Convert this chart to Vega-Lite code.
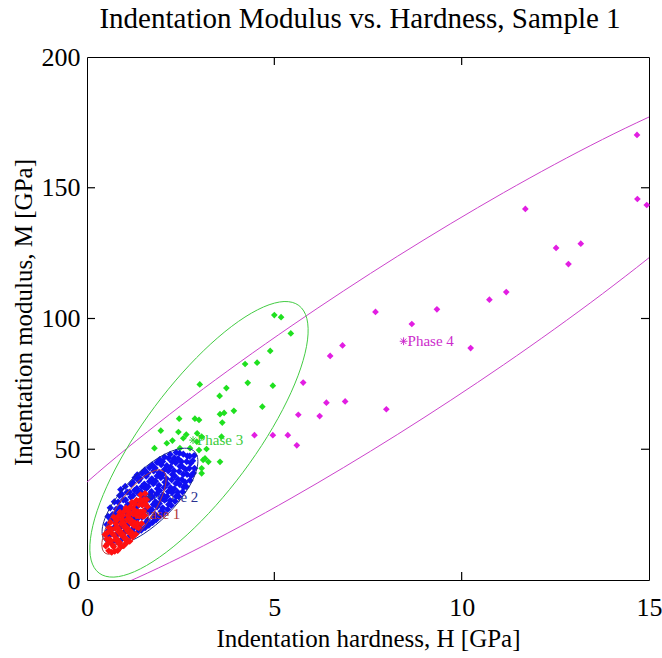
{
  "$schema": "https://vega.github.io/schema/vega-lite/v6.json",
  "width": 562,
  "height": 523,
  "autosize": {"type": "none"},
  "padding": {"left": 87, "top": 57, "right": 13, "bottom": 78},
  "background": "white",
  "title": {"text": "Indentation Modulus vs. Hardness, Sample 1", "font": "Liberation Serif", "fontSize": 29, "fontWeight": "normal", "color": "black", "offset": 10, "frame": "group", "dx": -8},
  "config": {
    "view": {"stroke": "black", "strokeWidth": 1},
    "axis": {"grid": false, "domain": false, "labelFlush": false, "labelOverlap": false, "labelColor": "black", "titleColor": "black", "labelFont": "Liberation Serif", "titleFont": "Liberation Serif", "labelFontSize": 26, "titleFontSize": 25, "titleFontWeight": "normal"}
  },
  "datasets": {
    "lab": [
      {"H": 1.15, "M": 25.2, "p": "1", "t": "Phase 1"},
      {"H": 1.63, "M": 31.7, "p": "2", "t": "Phase 2"},
      {"H": 2.83, "M": 53.5, "p": "3", "t": "Phase 3"},
      {"H": 8.45, "M": 91.3, "p": "4", "t": "Phase 4"}
    ],
    "tx": [{"v": 5}, {"v": 10}],
    "ty": [{"v": 50}, {"v": 100}, {"v": 150}],
    "pts": [
      {"H": 14.68, "M": 170.2, "p": "m"}, {"H": 14.69, "M": 145.7, "p": "m"}, {"H": 14.94, "M": 143.4, "p": "m"},
      {"H": 11.70, "M": 141.9, "p": "m"}, {"H": 12.52, "M": 127.0, "p": "m"}, {"H": 13.18, "M": 128.6, "p": "m"},
      {"H": 12.85, "M": 120.8, "p": "m"}, {"H": 10.74, "M": 107.2, "p": "m"}, {"H": 11.19, "M": 110.1, "p": "m"},
      {"H": 7.70, "M": 102.5, "p": "m"}, {"H": 9.34, "M": 103.5, "p": "m"}, {"H": 8.67, "M": 97.9, "p": "m"},
      {"H": 10.24, "M": 88.7, "p": "m"}, {"H": 6.82, "M": 89.7, "p": "m"}, {"H": 6.49, "M": 85.7, "p": "m"},
      {"H": 5.77, "M": 75.5, "p": "m"}, {"H": 6.89, "M": 68.3, "p": "m"}, {"H": 6.39, "M": 67.8, "p": "m"},
      {"H": 5.64, "M": 63.2, "p": "m"}, {"H": 6.21, "M": 62.7, "p": "m"}, {"H": 7.99, "M": 65.3, "p": "m"},
      {"H": 4.47, "M": 55.4, "p": "m"}, {"H": 4.96, "M": 55.4, "p": "m"}, {"H": 5.36, "M": 55.4, "p": "m"},
      {"H": 5.60, "M": 51.5, "p": "m"},
      {"H": 5.00, "M": 101.3, "p": "g"}, {"H": 5.18, "M": 100.5, "p": "g"}, {"H": 5.44, "M": 94.3, "p": "g"},
      {"H": 4.89, "M": 87.6, "p": "g"}, {"H": 4.22, "M": 82.6, "p": "g"}, {"H": 4.54, "M": 83.1, "p": "g"},
      {"H": 3.01, "M": 74.8, "p": "g"}, {"H": 3.72, "M": 73.4, "p": "g"}, {"H": 4.29, "M": 75.4, "p": "g"},
      {"H": 4.96, "M": 74.3, "p": "g"}, {"H": 3.54, "M": 70.4, "p": "g"}, {"H": 4.68, "M": 66.3, "p": "g"},
      {"H": 3.92, "M": 64.7, "p": "g"}, {"H": 3.55, "M": 63.4, "p": "g"}, {"H": 3.66, "M": 63.9, "p": "g"},
      {"H": 3.61, "M": 60.2, "p": "g"}, {"H": 2.46, "M": 61.7, "p": "g"}, {"H": 2.88, "M": 61.7, "p": "g"},
      {"H": 2.99, "M": 61.2, "p": "g"}, {"H": 1.97, "M": 57.1, "p": "g"}, {"H": 2.44, "M": 56.6, "p": "g"},
      {"H": 2.65, "M": 55.6, "p": "g"}, {"H": 2.94, "M": 56.1, "p": "g"}, {"H": 3.06, "M": 54.8, "p": "g"},
      {"H": 2.28, "M": 53.3, "p": "g"}, {"H": 1.80, "M": 50.4, "p": "g"}, {"H": 3.59, "M": 54.8, "p": "g"},
      {"H": 3.19, "M": 50.1, "p": "g"}, {"H": 3.10, "M": 45.9, "p": "g"}, {"H": 3.55, "M": 45.2, "p": "g"},
      {"H": 3.06, "M": 40.8, "p": "g"}, {"H": 3.15, "M": 46.5, "p": "g"}, {"H": 2.99, "M": 49.7, "p": "g"},
      {"H": 3.24, "M": 45.2, "p": "g"}, {"H": 3.06, "M": 42.7, "p": "g"}, {"H": 2.13, "M": 52.3, "p": "g"},
      {"H": 2.48, "M": 50.4, "p": "g"}, {"H": 2.75, "M": 50.4, "p": "g"}, {"H": 2.57, "M": 54.2, "p": "g"},
      {"H": 2.93, "M": 52.9, "p": "g"},
      {"H": 0.55, "M": 15.8, "p": "b"}, {"H": 0.57, "M": 18.9, "p": "b"}, {"H": 0.53, "M": 21.2, "p": "b"}, {"H": 0.56, "M": 24.3, "p": "b"},
      {"H": 0.65, "M": 14.3, "p": "b"}, {"H": 0.62, "M": 17.3, "p": "b"}, {"H": 0.67, "M": 19.5, "p": "b"}, {"H": 0.64, "M": 22.9, "p": "b"}, {"H": 0.68, "M": 25.0, "p": "b"}, {"H": 0.62, "M": 27.6, "p": "b"},
      {"H": 0.75, "M": 15.1, "p": "b"}, {"H": 0.78, "M": 17.0, "p": "b"}, {"H": 0.73, "M": 20.1, "p": "b"}, {"H": 0.77, "M": 22.0, "p": "b"}, {"H": 0.74, "M": 25.2, "p": "b"}, {"H": 0.78, "M": 27.1, "p": "b"}, {"H": 0.73, "M": 29.9, "p": "b"},
      {"H": 0.85, "M": 14.6, "p": "b"}, {"H": 0.82, "M": 17.9, "p": "b"}, {"H": 0.87, "M": 19.9, "p": "b"}, {"H": 0.83, "M": 22.9, "p": "b"}, {"H": 0.86, "M": 24.8, "p": "b"}, {"H": 0.88, "M": 27.8, "p": "b"}, {"H": 0.83, "M": 29.8, "p": "b"}, {"H": 0.87, "M": 32.3, "p": "b"},
      {"H": 0.95, "M": 15.9, "p": "b"}, {"H": 0.98, "M": 17.8, "p": "b"}, {"H": 0.93, "M": 20.8, "p": "b"}, {"H": 0.97, "M": 22.6, "p": "b"}, {"H": 0.94, "M": 25.7, "p": "b"}, {"H": 0.92, "M": 27.6, "p": "b"}, {"H": 0.97, "M": 30.6, "p": "b"}, {"H": 0.93, "M": 32.8, "p": "b"}, {"H": 0.90, "M": 34.6, "p": "b"},
      {"H": 1.05, "M": 15.4, "p": "b"}, {"H": 1.02, "M": 18.8, "p": "b"}, {"H": 1.07, "M": 20.7, "p": "b"}, {"H": 1.03, "M": 23.7, "p": "b"}, {"H": 1.06, "M": 25.7, "p": "b"}, {"H": 1.08, "M": 28.7, "p": "b"}, {"H": 1.03, "M": 30.6, "p": "b"}, {"H": 1.07, "M": 33.6, "p": "b"}, {"H": 1.02, "M": 35.8, "p": "b"},
      {"H": 1.15, "M": 16.9, "p": "b"}, {"H": 1.18, "M": 18.8, "p": "b"}, {"H": 1.13, "M": 21.8, "p": "b"}, {"H": 1.17, "M": 23.8, "p": "b"}, {"H": 1.14, "M": 26.8, "p": "b"}, {"H": 1.12, "M": 28.7, "p": "b"}, {"H": 1.17, "M": 31.7, "p": "b"}, {"H": 1.13, "M": 33.6, "p": "b"}, {"H": 1.18, "M": 36.6, "p": "b"},
      {"H": 1.25, "M": 17.6, "p": "b"}, {"H": 1.22, "M": 19.5, "p": "b"}, {"H": 1.27, "M": 22.5, "p": "b"}, {"H": 1.23, "M": 24.4, "p": "b"}, {"H": 1.26, "M": 27.4, "p": "b"}, {"H": 1.28, "M": 29.4, "p": "b"}, {"H": 1.23, "M": 32.3, "p": "b"}, {"H": 1.27, "M": 34.3, "p": "b"}, {"H": 1.22, "M": 37.3, "p": "b"}, {"H": 1.28, "M": 39.1, "p": "b"},
      {"H": 1.35, "M": 18.3, "p": "b"}, {"H": 1.38, "M": 20.3, "p": "b"}, {"H": 1.33, "M": 23.2, "p": "b"}, {"H": 1.37, "M": 25.2, "p": "b"}, {"H": 1.34, "M": 28.1, "p": "b"}, {"H": 1.32, "M": 30.1, "p": "b"}, {"H": 1.37, "M": 33.1, "p": "b"}, {"H": 1.33, "M": 35.0, "p": "b"}, {"H": 1.38, "M": 38.0, "p": "b"}, {"H": 1.34, "M": 40.2, "p": "b"},
      {"H": 1.45, "M": 19.1, "p": "b"}, {"H": 1.42, "M": 21.0, "p": "b"}, {"H": 1.47, "M": 24.0, "p": "b"}, {"H": 1.43, "M": 25.9, "p": "b"}, {"H": 1.46, "M": 28.9, "p": "b"}, {"H": 1.48, "M": 30.9, "p": "b"}, {"H": 1.43, "M": 33.8, "p": "b"}, {"H": 1.47, "M": 35.8, "p": "b"}, {"H": 1.42, "M": 38.8, "p": "b"}, {"H": 1.47, "M": 40.9, "p": "b"},
      {"H": 1.55, "M": 20.0, "p": "b"}, {"H": 1.58, "M": 22.0, "p": "b"}, {"H": 1.53, "M": 24.9, "p": "b"}, {"H": 1.57, "M": 26.9, "p": "b"}, {"H": 1.54, "M": 29.8, "p": "b"}, {"H": 1.52, "M": 31.8, "p": "b"}, {"H": 1.57, "M": 34.8, "p": "b"}, {"H": 1.53, "M": 36.7, "p": "b"}, {"H": 1.58, "M": 39.7, "p": "b"}, {"H": 1.54, "M": 42.0, "p": "b"},
      {"H": 1.65, "M": 21.0, "p": "b"}, {"H": 1.62, "M": 22.9, "p": "b"}, {"H": 1.67, "M": 25.9, "p": "b"}, {"H": 1.63, "M": 27.8, "p": "b"}, {"H": 1.66, "M": 30.8, "p": "b"}, {"H": 1.68, "M": 32.8, "p": "b"}, {"H": 1.63, "M": 35.7, "p": "b"}, {"H": 1.67, "M": 37.7, "p": "b"}, {"H": 1.62, "M": 40.7, "p": "b"}, {"H": 1.67, "M": 43.0, "p": "b"},
      {"H": 1.75, "M": 22.0, "p": "b"}, {"H": 1.78, "M": 24.0, "p": "b"}, {"H": 1.73, "M": 26.9, "p": "b"}, {"H": 1.77, "M": 28.9, "p": "b"}, {"H": 1.74, "M": 31.8, "p": "b"}, {"H": 1.72, "M": 33.8, "p": "b"}, {"H": 1.77, "M": 36.8, "p": "b"}, {"H": 1.73, "M": 38.7, "p": "b"}, {"H": 1.78, "M": 41.7, "p": "b"}, {"H": 1.74, "M": 44.0, "p": "b"},
      {"H": 1.85, "M": 23.1, "p": "b"}, {"H": 1.82, "M": 25.0, "p": "b"}, {"H": 1.87, "M": 28.0, "p": "b"}, {"H": 1.83, "M": 29.9, "p": "b"}, {"H": 1.86, "M": 32.9, "p": "b"}, {"H": 1.88, "M": 34.9, "p": "b"}, {"H": 1.83, "M": 37.8, "p": "b"}, {"H": 1.87, "M": 39.8, "p": "b"}, {"H": 1.82, "M": 42.8, "p": "b"}, {"H": 1.87, "M": 45.0, "p": "b"},
      {"H": 1.95, "M": 24.4, "p": "b"}, {"H": 1.98, "M": 26.3, "p": "b"}, {"H": 1.93, "M": 29.3, "p": "b"}, {"H": 1.97, "M": 31.2, "p": "b"}, {"H": 1.94, "M": 34.2, "p": "b"}, {"H": 1.92, "M": 36.2, "p": "b"}, {"H": 1.97, "M": 39.1, "p": "b"}, {"H": 1.93, "M": 41.1, "p": "b"}, {"H": 1.98, "M": 44.1, "p": "b"}, {"H": 1.94, "M": 46.0, "p": "b"},
      {"H": 2.05, "M": 25.6, "p": "b"}, {"H": 2.02, "M": 27.6, "p": "b"}, {"H": 2.07, "M": 30.5, "p": "b"}, {"H": 2.03, "M": 32.5, "p": "b"}, {"H": 2.06, "M": 35.4, "p": "b"}, {"H": 2.08, "M": 37.4, "p": "b"}, {"H": 2.03, "M": 40.4, "p": "b"}, {"H": 2.07, "M": 42.3, "p": "b"}, {"H": 2.02, "M": 45.3, "p": "b"}, {"H": 2.07, "M": 47.0, "p": "b"},
      {"H": 2.15, "M": 27.0, "p": "b"}, {"H": 2.18, "M": 28.9, "p": "b"}, {"H": 2.13, "M": 31.9, "p": "b"}, {"H": 2.17, "M": 33.8, "p": "b"}, {"H": 2.14, "M": 36.8, "p": "b"}, {"H": 2.12, "M": 38.8, "p": "b"}, {"H": 2.17, "M": 41.7, "p": "b"}, {"H": 2.13, "M": 43.7, "p": "b"}, {"H": 2.18, "M": 46.6, "p": "b"},
      {"H": 2.25, "M": 28.5, "p": "b"}, {"H": 2.22, "M": 30.4, "p": "b"}, {"H": 2.27, "M": 33.4, "p": "b"}, {"H": 2.23, "M": 35.3, "p": "b"}, {"H": 2.26, "M": 38.3, "p": "b"}, {"H": 2.28, "M": 40.3, "p": "b"}, {"H": 2.23, "M": 43.2, "p": "b"}, {"H": 2.27, "M": 45.2, "p": "b"}, {"H": 2.22, "M": 48.0, "p": "b"},
      {"H": 2.35, "M": 30.1, "p": "b"}, {"H": 2.38, "M": 32.0, "p": "b"}, {"H": 2.33, "M": 34.9, "p": "b"}, {"H": 2.37, "M": 36.9, "p": "b"}, {"H": 2.34, "M": 39.8, "p": "b"}, {"H": 2.32, "M": 41.8, "p": "b"}, {"H": 2.37, "M": 44.8, "p": "b"}, {"H": 2.33, "M": 46.7, "p": "b"}, {"H": 2.38, "M": 48.8, "p": "b"},
      {"H": 2.45, "M": 31.9, "p": "b"}, {"H": 2.42, "M": 33.6, "p": "b"}, {"H": 2.47, "M": 36.6, "p": "b"}, {"H": 2.43, "M": 38.5, "p": "b"}, {"H": 2.46, "M": 41.5, "p": "b"}, {"H": 2.48, "M": 43.5, "p": "b"}, {"H": 2.43, "M": 46.4, "p": "b"}, {"H": 2.47, "M": 48.5, "p": "b"},
      {"H": 2.55, "M": 33.7, "p": "b"}, {"H": 2.58, "M": 35.5, "p": "b"}, {"H": 2.53, "M": 38.4, "p": "b"}, {"H": 2.57, "M": 40.4, "p": "b"}, {"H": 2.54, "M": 43.4, "p": "b"}, {"H": 2.52, "M": 45.3, "p": "b"}, {"H": 2.57, "M": 48.1, "p": "b"},
      {"H": 2.65, "M": 35.7, "p": "b"}, {"H": 2.62, "M": 37.4, "p": "b"}, {"H": 2.67, "M": 40.4, "p": "b"}, {"H": 2.63, "M": 42.3, "p": "b"}, {"H": 2.66, "M": 45.3, "p": "b"}, {"H": 2.68, "M": 47.4, "p": "b"},
      {"H": 2.75, "M": 38.1, "p": "b"}, {"H": 2.78, "M": 39.8, "p": "b"}, {"H": 2.73, "M": 42.7, "p": "b"}, {"H": 2.77, "M": 44.7, "p": "b"}, {"H": 2.74, "M": 47.4, "p": "b"},
      {"H": 2.84, "M": 40.9, "p": "b"}, {"H": 2.87, "M": 42.7, "p": "b"}, {"H": 2.82, "M": 45.6, "p": "b"}, {"H": 2.86, "M": 47.6, "p": "b"},
      {"H": 0.50, "M": 13.0, "p": "r"}, {"H": 0.53, "M": 15.7, "p": "r"}, {"H": 0.48, "M": 17.4, "p": "r"},
      {"H": 0.58, "M": 11.2, "p": "r"}, {"H": 0.55, "M": 13.9, "p": "r"}, {"H": 0.60, "M": 15.6, "p": "r"}, {"H": 0.56, "M": 18.3, "p": "r"}, {"H": 0.59, "M": 20.0, "p": "r"},
      {"H": 0.66, "M": 10.6, "p": "r"}, {"H": 0.69, "M": 13.3, "p": "r"}, {"H": 0.64, "M": 15.0, "p": "r"}, {"H": 0.68, "M": 17.7, "p": "r"}, {"H": 0.65, "M": 19.4, "p": "r"}, {"H": 0.63, "M": 22.1, "p": "r"},
      {"H": 0.74, "M": 11.0, "p": "r"}, {"H": 0.71, "M": 12.7, "p": "r"}, {"H": 0.76, "M": 15.4, "p": "r"}, {"H": 0.72, "M": 17.1, "p": "r"}, {"H": 0.75, "M": 19.8, "p": "r"}, {"H": 0.77, "M": 21.5, "p": "r"}, {"H": 0.72, "M": 24.0, "p": "r"},
      {"H": 0.82, "M": 11.3, "p": "r"}, {"H": 0.85, "M": 14.0, "p": "r"}, {"H": 0.80, "M": 15.7, "p": "r"}, {"H": 0.84, "M": 18.4, "p": "r"}, {"H": 0.81, "M": 20.1, "p": "r"}, {"H": 0.79, "M": 22.8, "p": "r"}, {"H": 0.84, "M": 24.5, "p": "r"},
      {"H": 0.90, "M": 12.7, "p": "r"}, {"H": 0.87, "M": 14.4, "p": "r"}, {"H": 0.92, "M": 17.1, "p": "r"}, {"H": 0.88, "M": 18.8, "p": "r"}, {"H": 0.91, "M": 21.5, "p": "r"}, {"H": 0.93, "M": 23.2, "p": "r"}, {"H": 0.88, "M": 25.9, "p": "r"},
      {"H": 0.98, "M": 13.1, "p": "r"}, {"H": 1.01, "M": 15.8, "p": "r"}, {"H": 0.96, "M": 17.5, "p": "r"}, {"H": 1.00, "M": 20.2, "p": "r"}, {"H": 0.97, "M": 21.9, "p": "r"}, {"H": 0.95, "M": 24.6, "p": "r"}, {"H": 1.00, "M": 26.3, "p": "r"},
      {"H": 1.06, "M": 14.3, "p": "r"}, {"H": 1.03, "M": 16.0, "p": "r"}, {"H": 1.08, "M": 18.7, "p": "r"}, {"H": 1.04, "M": 20.4, "p": "r"}, {"H": 1.07, "M": 23.1, "p": "r"}, {"H": 1.09, "M": 24.8, "p": "r"}, {"H": 1.04, "M": 27.5, "p": "r"},
      {"H": 1.14, "M": 14.8, "p": "r"}, {"H": 1.17, "M": 17.5, "p": "r"}, {"H": 1.12, "M": 19.2, "p": "r"}, {"H": 1.16, "M": 21.9, "p": "r"}, {"H": 1.13, "M": 23.6, "p": "r"}, {"H": 1.11, "M": 26.3, "p": "r"}, {"H": 1.16, "M": 28.0, "p": "r"},
      {"H": 1.22, "M": 16.5, "p": "r"}, {"H": 1.19, "M": 18.2, "p": "r"}, {"H": 1.24, "M": 20.9, "p": "r"}, {"H": 1.20, "M": 22.6, "p": "r"}, {"H": 1.23, "M": 25.3, "p": "r"}, {"H": 1.25, "M": 27.0, "p": "r"}, {"H": 1.20, "M": 29.7, "p": "r"},
      {"H": 1.30, "M": 17.5, "p": "r"}, {"H": 1.33, "M": 20.2, "p": "r"}, {"H": 1.28, "M": 21.9, "p": "r"}, {"H": 1.32, "M": 24.6, "p": "r"}, {"H": 1.29, "M": 26.3, "p": "r"}, {"H": 1.27, "M": 29.0, "p": "r"}, {"H": 1.32, "M": 30.5, "p": "r"},
      {"H": 1.38, "M": 20.0, "p": "r"}, {"H": 1.35, "M": 21.7, "p": "r"}, {"H": 1.40, "M": 24.4, "p": "r"}, {"H": 1.36, "M": 26.1, "p": "r"}, {"H": 1.39, "M": 28.8, "p": "r"}, {"H": 1.41, "M": 30.5, "p": "r"},
      {"H": 1.46, "M": 21.6, "p": "r"}, {"H": 1.49, "M": 24.3, "p": "r"}, {"H": 1.44, "M": 26.0, "p": "r"}, {"H": 1.48, "M": 28.7, "p": "r"}, {"H": 1.45, "M": 30.4, "p": "r"}, {"H": 1.43, "M": 32.6, "p": "r"},
      {"H": 1.54, "M": 24.7, "p": "r"}, {"H": 1.51, "M": 26.4, "p": "r"}, {"H": 1.56, "M": 29.1, "p": "r"}, {"H": 1.52, "M": 30.8, "p": "r"}, {"H": 1.55, "M": 33.1, "p": "r"},
      {"H": 1.61, "M": 28.0, "p": "r"}, {"H": 1.59, "M": 30.7, "p": "r"}
    ],
    "ell": [
      {"e": "m", "i": 0, "H": 19.236, "M": 188.25}, {"e": "m", "i": 1, "H": 18.863, "M": 193.71}, {"e": "m", "i": 2, "H": 17.768, "M": 192.08}, {"e": "m", "i": 3, "H": 16.027, "M": 183.47},
      {"e": "m", "i": 4, "H": 13.759, "M": 168.47}, {"e": "m", "i": 5, "H": 11.116, "M": 148.09}, {"e": "m", "i": 6, "H": 8.281, "M": 123.74}, {"e": "m", "i": 7, "H": 5.446, "M": 97.07},
      {"e": "m", "i": 8, "H": 2.804, "M": 69.89}, {"e": "m", "i": 9, "H": 0.535, "M": 44.05}, {"e": "m", "i": 10, "H": -1.206, "M": 21.34}, {"e": "m", "i": 11, "H": -2.301, "M": 3.27},
      {"e": "m", "i": 12, "H": -2.674, "M": -8.91}, {"e": "m", "i": 13, "H": -2.301, "M": -14.37}, {"e": "m", "i": 14, "H": -1.206, "M": -12.74}, {"e": "m", "i": 15, "H": 0.535, "M": -4.13},
      {"e": "m", "i": 16, "H": 2.804, "M": 10.88}, {"e": "m", "i": 17, "H": 5.446, "M": 31.25}, {"e": "m", "i": 18, "H": 8.281, "M": 55.60}, {"e": "m", "i": 19, "H": 11.116, "M": 82.27},
      {"e": "m", "i": 20, "H": 13.759, "M": 109.46}, {"e": "m", "i": 21, "H": 16.027, "M": 135.29}, {"e": "m", "i": 22, "H": 17.768, "M": 158.01}, {"e": "m", "i": 23, "H": 18.863, "M": 176.07},
      {"e": "g", "i": 0, "H": 5.655, "M": 104.97}, {"e": "g", "i": 1, "H": 5.868, "M": 99.97}, {"e": "g", "i": 2, "H": 5.886, "M": 91.82}, {"e": "g", "i": 3, "H": 5.706, "M": 81.09},
      {"e": "g", "i": 4, "H": 5.340, "M": 68.49}, {"e": "g", "i": 5, "H": 4.815, "M": 54.89}, {"e": "g", "i": 6, "H": 4.165, "M": 41.22}, {"e": "g", "i": 7, "H": 3.435, "M": 28.41},
      {"e": "g", "i": 8, "H": 2.674, "M": 17.32}, {"e": "g", "i": 9, "H": 1.936, "M": 8.73}, {"e": "g", "i": 10, "H": 1.268, "M": 3.20}, {"e": "g", "i": 11, "H": 0.718, "M": 1.11},
      {"e": "g", "i": 12, "H": 0.323, "M": 2.63}, {"e": "g", "i": 13, "H": 0.110, "M": 7.63}, {"e": "g", "i": 14, "H": 0.092, "M": 15.78}, {"e": "g", "i": 15, "H": 0.272, "M": 26.52},
      {"e": "g", "i": 16, "H": 0.638, "M": 39.11}, {"e": "g", "i": 17, "H": 1.163, "M": 52.71}, {"e": "g", "i": 18, "H": 1.813, "M": 66.38}, {"e": "g", "i": 19, "H": 2.543, "M": 79.19},
      {"e": "g", "i": 20, "H": 3.304, "M": 90.28}, {"e": "g", "i": 21, "H": 4.042, "M": 98.88}, {"e": "g", "i": 22, "H": 4.710, "M": 104.40}, {"e": "g", "i": 23, "H": 5.260, "M": 106.49},
      {"e": "b", "i": 0, "H": 2.869, "M": 49.14}, {"e": "b", "i": 1, "H": 2.951, "M": 46.81}, {"e": "b", "i": 2, "H": 2.947, "M": 43.47}, {"e": "b", "i": 3, "H": 2.857, "M": 39.35},
      {"e": "b", "i": 4, "H": 2.686, "M": 34.72}, {"e": "b", "i": 5, "H": 2.447, "M": 29.89}, {"e": "b", "i": 6, "H": 2.156, "M": 25.21}, {"e": "b", "i": 7, "H": 1.832, "M": 20.99},
      {"e": "b", "i": 8, "H": 1.498, "M": 17.51}, {"e": "b", "i": 9, "H": 1.177, "M": 15.01}, {"e": "b", "i": 10, "H": 0.890, "M": 13.67}, {"e": "b", "i": 11, "H": 0.656, "M": 13.57},
      {"e": "b", "i": 12, "H": 0.493, "M": 14.72}, {"e": "b", "i": 13, "H": 0.411, "M": 17.05}, {"e": "b", "i": 14, "H": 0.415, "M": 20.39}, {"e": "b", "i": 15, "H": 0.506, "M": 24.51},
      {"e": "b", "i": 16, "H": 0.676, "M": 29.15}, {"e": "b", "i": 17, "H": 0.915, "M": 33.97}, {"e": "b", "i": 18, "H": 1.207, "M": 38.65}, {"e": "b", "i": 19, "H": 1.530, "M": 42.88},
      {"e": "b", "i": 20, "H": 1.864, "M": 46.36}, {"e": "b", "i": 21, "H": 2.186, "M": 48.85}, {"e": "b", "i": 22, "H": 2.473, "M": 50.19}, {"e": "b", "i": 23, "H": 2.706, "M": 50.29},
      {"e": "r", "i": 0, "H": 2.028, "M": 41.68}, {"e": "r", "i": 1, "H": 2.098, "M": 40.17}, {"e": "r", "i": 2, "H": 2.110, "M": 37.70}, {"e": "r", "i": 3, "H": 2.063, "M": 34.43},
      {"e": "r", "i": 4, "H": 1.962, "M": 30.59}, {"e": "r", "i": 5, "H": 1.813, "M": 26.43}, {"e": "r", "i": 6, "H": 1.625, "M": 22.24}, {"e": "r", "i": 7, "H": 1.412, "M": 18.31},
      {"e": "r", "i": 8, "H": 1.188, "M": 14.91}, {"e": "r", "i": 9, "H": 0.969, "M": 12.26}, {"e": "r", "i": 10, "H": 0.769, "M": 10.54}, {"e": "r", "i": 11, "H": 0.602, "M": 9.88},
      {"e": "r", "i": 12, "H": 0.480, "M": 10.32}, {"e": "r", "i": 13, "H": 0.411, "M": 11.83}, {"e": "r", "i": 14, "H": 0.398, "M": 14.30}, {"e": "r", "i": 15, "H": 0.445, "M": 17.57},
      {"e": "r", "i": 16, "H": 0.546, "M": 21.41}, {"e": "r", "i": 17, "H": 0.696, "M": 25.57}, {"e": "r", "i": 18, "H": 0.883, "M": 29.76}, {"e": "r", "i": 19, "H": 1.096, "M": 33.69},
      {"e": "r", "i": 20, "H": 1.320, "M": 37.09}, {"e": "r", "i": 21, "H": 1.539, "M": 39.74}, {"e": "r", "i": 22, "H": 1.739, "M": 41.46}, {"e": "r", "i": 23, "H": 1.906, "M": 42.12}
    ]
  },
  "layer": [
    {
      "data": {"name": "tx"},
      "mark": {"type": "point", "shape": "M0,-1L0,0", "filled": false, "size": 256, "stroke": "black", "strokeWidth": 1.2, "opacity": 1},
      "encoding": {
        "x": {"field": "v", "type": "quantitative", "scale": {"domain": [0, 15], "nice": false, "zero": false}, "axis": null},
        "y": {"datum": 0, "type": "quantitative", "scale": {"domain": [0, 200], "nice": false, "zero": false}, "axis": null}
      }
    },
    {
      "data": {"name": "tx"},
      "mark": {"type": "point", "shape": "M0,0L0,1", "filled": false, "size": 256, "stroke": "black", "strokeWidth": 1.2, "opacity": 1},
      "encoding": {
        "x": {"field": "v", "type": "quantitative", "axis": null},
        "y": {"datum": 200, "type": "quantitative", "axis": null}
      }
    },
    {
      "data": {"name": "ty"},
      "mark": {"type": "point", "shape": "M0,0L1,0", "filled": false, "size": 256, "stroke": "black", "strokeWidth": 1.2, "opacity": 1},
      "encoding": {
        "y": {"field": "v", "type": "quantitative", "axis": null},
        "x": {"datum": 0, "type": "quantitative", "axis": null}
      }
    },
    {
      "data": {"name": "ty"},
      "mark": {"type": "point", "shape": "M-1,0L0,0", "filled": false, "size": 256, "stroke": "black", "strokeWidth": 1.2, "opacity": 1},
      "encoding": {
        "y": {"field": "v", "type": "quantitative", "axis": null},
        "x": {"datum": 15, "type": "quantitative", "axis": null}
      }
    },
    {
      "data": {"name": "lab"},
      "transform": [{"filter": "datum.p == '2' || datum.p == '3'"}],
      "mark": {"type": "text", "align": "left", "baseline": "middle", "dx": 4, "font": "Liberation Serif", "fontSize": 15},
      "encoding": {
        "x": {"field": "H", "type": "quantitative", "axis": null},
        "y": {"field": "M", "type": "quantitative", "axis": null},
        "text": {"field": "t"},
        "color": {"field": "p", "type": "nominal", "scale": {"domain": ["1", "2", "3", "4"], "range": ["#b03838", "#2a3090", "#3ccc3c", "#cc2ccc"]}, "legend": null}
      }
    },
    {
      "data": {"name": "pts"},
      "transform": [{"filter": "datum.p == 'm' || datum.p == 'g'"}],
      "mark": {"type": "point", "shape": "diamond", "filled": true, "size": 45, "opacity": 1, "strokeWidth": 0},
      "encoding": {
        "x": {"field": "H", "type": "quantitative",
          "axis": {"orient": "bottom", "values": [0, 5, 10, 15], "ticks": false, "labelPadding": 14, "title": "Indentation hardness, H [GPa]", "titleBaseline": "alphabetic", "titleY": 66}},
        "y": {"field": "M", "type": "quantitative",
          "axis": {"orient": "left", "values": [0, 50, 100, 150, 200], "ticks": false, "labelPadding": 7, "title": "Indentation modulus, M [GPa]", "titleBaseline": "alphabetic", "titleX": -56, "titleY": 255}},
        "fill": {"field": "p", "type": "nominal", "scale": {"domain": ["m", "g", "b", "r"], "range": ["#e21ee2", "#1fe01f", "#0f0ff2", "#ff1010"]}, "legend": null}
      }
    },
    {
      "data": {"name": "pts"},
      "transform": [{"filter": "datum.p == 'b'"}],
      "mark": {"type": "point", "shape": "diamond", "filled": true, "size": 52, "opacity": 1, "strokeWidth": 0},
      "encoding": {
        "x": {"field": "H", "type": "quantitative", "axis": null},
        "y": {"field": "M", "type": "quantitative", "axis": null},
        "fill": {"field": "p", "type": "nominal", "legend": null}
      }
    },
    {
      "data": {"name": "ell"},
      "mark": {"type": "line", "interpolate": "cardinal-closed", "clip": true, "strokeWidth": 1},
      "encoding": {
        "x": {"field": "H", "type": "quantitative", "axis": null},
        "y": {"field": "M", "type": "quantitative", "axis": null},
        "stroke": {"field": "e", "type": "nominal", "scale": {"domain": ["m", "g", "b", "r"], "range": ["#cc44cc", "#44cc44", "#1a2a8a", "#b33c3c"]}, "legend": null},
        "order": {"field": "i", "type": "quantitative"}
      }
    },
    {
      "data": {"name": "lab"},
      "transform": [{"filter": "datum.p == '1' || datum.p == '4'"}],
      "mark": {"type": "text", "align": "left", "baseline": "middle", "dx": 4, "font": "Liberation Serif", "fontSize": 15},
      "encoding": {
        "x": {"field": "H", "type": "quantitative", "axis": null},
        "y": {"field": "M", "type": "quantitative", "axis": null},
        "text": {"field": "t"},
        "color": {"field": "p", "type": "nominal", "legend": null}
      }
    },
    {
      "data": {"name": "lab"},
      "mark": {"type": "point", "shape": "M-1,0L1,0M0,-1L0,1M-0.7,-0.7L0.7,0.7M-0.7,0.7L0.7,-0.7", "filled": false, "size": 60, "strokeWidth": 1, "opacity": 1},
      "encoding": {
        "x": {"field": "H", "type": "quantitative", "axis": null},
        "y": {"field": "M", "type": "quantitative", "axis": null},
        "color": {"field": "p", "type": "nominal", "legend": null}
      }
    },
    {
      "data": {"name": "pts"},
      "transform": [{"filter": "datum.p == 'r'"}],
      "mark": {"type": "point", "shape": "diamond", "filled": true, "size": 50, "opacity": 1, "strokeWidth": 0},
      "encoding": {
        "x": {"field": "H", "type": "quantitative", "axis": null},
        "y": {"field": "M", "type": "quantitative", "axis": null},
        "fill": {"field": "p", "type": "nominal", "legend": null}
      }
    }
  ],
  "resolve": {"axis": {"x": "independent", "y": "independent"}}
}
